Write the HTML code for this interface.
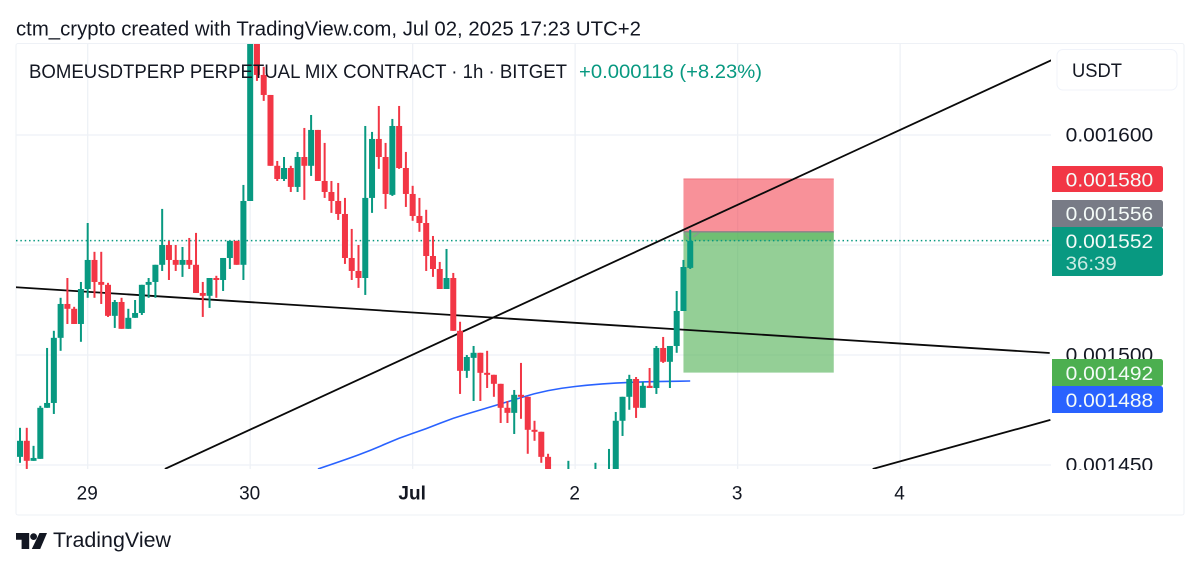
<!DOCTYPE html>
<html lang="en">
<head>
<meta charset="utf-8">
<title>BOMEUSDT chart</title>
<style>
html,body{margin:0;padding:0;background:#fff;width:1200px;height:570px;overflow:hidden}
svg{position:absolute;left:0;top:0;display:block}
text{font-family:"Liberation Sans",sans-serif}
</style>
</head>
<body>
<svg id="chart" xmlns="http://www.w3.org/2000/svg" width="1200" height="570" viewBox="0 0 1200 570">
  <defs>
    <clipPath id="pane-clip"><rect x="16" y="44" width="1035" height="425"></rect></clipPath>
    <clipPath id="axis-clip"><rect x="1052" y="44" width="131" height="426"></rect></clipPath>
  </defs>
  <rect x="0" y="0" width="1200" height="570" fill="#ffffff"></rect>
  <text x="16" y="35.5" font-size="20.5" fill="#131722" textLength="625" lengthAdjust="spacingAndGlyphs">ctm_crypto created with TradingView.com, Jul 02, 2025 17:23 UTC+2</text>
  <rect x="16" y="43.5" width="1168" height="471.5" rx="2" fill="#ffffff" stroke="#eef1f6" stroke-width="1"></rect>
  <g id="grid" clip-path="url(#pane-clip)"></g>
  <g id="position" clip-path="url(#pane-clip)"></g>
  <g id="price-line" clip-path="url(#pane-clip)"></g>
  <g id="trends" clip-path="url(#pane-clip)"></g>
  <g id="ma" clip-path="url(#pane-clip)"></g>
  <g id="candles" clip-path="url(#pane-clip)"></g>

  <text x="29" y="78" font-size="19" fill="#131722" textLength="538" lengthAdjust="spacingAndGlyphs">BOMEUSDTPERP PERPETUAL MIX CONTRACT · 1h · BITGET</text>
  <text x="579" y="78" font-size="19" fill="#089981" textLength="183" lengthAdjust="spacingAndGlyphs">+0.000118 (+8.23%)</text>

  <g id="price-axis" clip-path="url(#axis-clip)"></g>
  <rect x="1057" y="49.5" width="120" height="40.5" rx="6" fill="#ffffff" stroke="#f0f3fa" stroke-width="1"></rect>
  <text x="1072" y="77" font-size="19.5" fill="#131722" textLength="50" lengthAdjust="spacingAndGlyphs">USDT</text>
  <g id="price-tags"></g>
  <g id="time-axis"></g>

  <g>
    <path d="M16 533h13.2v16h-7.6v-9.2H16z" fill="#131722"></path>
    <circle cx="33.6" cy="536.6" r="3.4" fill="#131722"></circle>
    <path d="M39.5 533H47l-6.8 16h-8.4z" fill="#131722"></path>
    <text x="53" y="547" font-size="21.5" fill="#131722" textLength="118" lengthAdjust="spacingAndGlyphs">TradingView</text>
  </g>
</svg>
<script>
// Prices are expressed in millionths of a USDT (1552 = 0.001552).
const opens = [1453.7,1461.0,1451.9,1452.8,1476.0,1478.2,1507.8,1523.2,1521.0,1514.1,
1530.0,1543.2,1533.2,1531.9,1517.8,1524.1,1511.9,1516.9,1519.1,1531.9,
1533.2,1541.0,1550.0,1543.2,1541.0,1543.2,1541.0,1528.2,1526.9,1535.0,
1534.1,1544.1,1551.9,1541.0,1570.0,1647.8,1627.3,1618.2,1586.0,1580.0,
1585.0,1576.4,1590.0,1586.0,1602.3,1579.1,1574.1,1570.0,1564.1,1544.1,
1538.2,1535.0,1571.4,1598.2,1590.0,1572.8,1604.1,1585.0,1573.2,1563.2,
1560.0,1545.0,1539.1,1530.0,1535.0,1511.0,1492.8,1498.7,1501.0,1491.9,
1491.0,1486.9,1476.0,1473.7,1481.9,1481.0,1466.0,1465.1,1453.7,1444.0,
1436.0,1432.0,1438.0,1434.0,1430.0,1436.0,1441.0,1437.0,1446.0,1470.1,
1481.0,1489.1,1476.0,1486.0,1485.0,1503.2,1496.9,1504.1,1520.0,1539.6];
const highs = [1466.9,1466.9,1458.7,1476.9,1503.2,1511.0,1526.0,1535.0,1521.9,1533.2,
1560.0,1546.9,1546.9,1532.8,1525.0,1526.0,1521.0,1525.0,1531.9,1535.0,
1541.0,1566.4,1551.9,1550.0,1549.1,1553.2,1555.5,1533.2,1535.0,1536.0,
1544.1,1551.9,1551.9,1577.3,1650.0,1650.0,1631.0,1618.2,1588.2,1590.0,
1586.0,1592.3,1603.2,1609.1,1602.3,1596.4,1579.1,1578.2,1571.4,1557.3,
1550.0,1604.1,1601.4,1613.2,1596.4,1607.3,1613.2,1592.3,1576.9,1571.4,
1566.0,1554.1,1542.3,1548.2,1537.3,1515.1,1500.0,1504.1,1501.0,1501.9,
1491.0,1486.9,1479.1,1484.1,1496.4,1481.0,1470.1,1465.1,1455.1,1446.0,
1444.0,1451.9,1445.0,1442.0,1444.0,1451.0,1446.0,1457.3,1474.1,1481.0,
1491.0,1490.0,1487.8,1494.1,1504.1,1508.2,1504.1,1529.1,1543.2,1556.9];
const lows = [1451.0,1448.2,1451.9,1452.8,1476.0,1473.2,1501.9,1514.1,1514.1,1506.0,
1526.0,1526.0,1523.2,1517.3,1512.3,1511.9,1511.9,1516.9,1518.2,1526.0,
1526.0,1538.2,1534.1,1538.2,1535.5,1539.1,1528.2,1517.3,1521.4,1526.0,
1529.1,1539.1,1541.0,1534.1,1570.0,1624.6,1615.5,1586.0,1579.1,1579.1,
1574.1,1574.1,1570.5,1581.4,1579.1,1571.4,1564.6,1561.4,1541.4,1534.1,
1530.5,1527.3,1564.6,1584.6,1566.4,1572.3,1584.6,1567.3,1561.0,1556.0,
1538.2,1535.5,1530.0,1530.0,1511.0,1482.3,1489.6,1479.1,1479.1,1485.0,
1481.0,1469.1,1469.1,1464.1,1471.0,1455.1,1461.0,1451.0,1438.0,1432.0,
1428.0,1425.0,1430.0,1426.0,1424.0,1430.0,1434.0,1432.0,1440.0,1463.2,
1475.1,1471.4,1476.0,1485.0,1482.3,1496.4,1485.0,1501.0,1520.0,1539.1];
const closes = [1461.0,1451.9,1453.2,1476.0,1478.2,1507.8,1523.2,1521.0,1514.1,1530.0,
1543.2,1533.2,1531.9,1517.8,1524.1,1511.9,1516.9,1519.1,1531.9,1533.2,
1541.0,1550.0,1543.2,1541.0,1543.2,1541.0,1528.2,1526.9,1535.0,1534.1,
1544.1,1551.9,1541.0,1570.0,1647.8,1627.3,1618.2,1586.0,1580.0,1585.0,
1576.4,1590.0,1586.0,1602.3,1579.1,1574.1,1570.0,1564.1,1544.1,1538.2,
1535.0,1571.4,1598.2,1590.0,1573.2,1604.1,1585.0,1573.2,1563.2,1560.0,
1545.0,1539.1,1530.0,1535.0,1511.0,1492.8,1499.1,1501.0,1491.9,1491.0,
1486.9,1476.0,1473.7,1481.9,1481.0,1466.0,1465.1,1453.7,1444.0,1436.0,
1432.0,1438.0,1434.0,1430.0,1436.0,1441.0,1437.0,1446.0,1470.1,1481.0,
1489.1,1476.0,1486.0,1485.0,1503.2,1496.9,1504.1,1520.0,1540.0,1551.9];

const maBars = [44,48,52,56,60,64,68,72,76,80,84,88,92,96,99];
const maValues = [1448.2,1452.3,1456.9,1462.3,1466.4,1471.4,1475.0,1478.7,1482.6,1485.0,1486.4,1487.3,1487.8,1488.0,1488.2];

const trendStartBars = [-0.6,21.4,125.95];
const trendStartPrices = [1530.8,1448.2,1448.2];
const trendEndBars = [152.1,152.4,152.2];
const trendEndPrices = [1500.9,1634.1,1470.5];

const positionStartBar = 98;
const positionEndBar = 120.2;
const stopPrice = 1580;
const entryPrice = 1556;
const targetPrice = 1492;
const lastPrice = 1552;
const maLast = 1488;

const gridPrices = [1600,1550,1500,1450];
const axisPriceTicks = [1600,1500,1450];
const axisPriceLabels = ['0.001600','0.001500','0.001450'];
const dayBars = [10,34,58,82,106,130];
const dayLabels = ['29','30','Jul','2','3','4'];

const NS = 'http://www.w3.org/2000/svg';
function xScale(bar){ return 20 + bar * 6.77; }
function yScale(price){ return 135 + (1600 - price) * 2.2; }
function priceText(p){ return (p / 1e6).toFixed(6); }

function shape(parent, tag, attrs){
  const el = document.createElementNS(NS, tag);
  for (const k in attrs) el.setAttribute(k, attrs[k]);
  parent.appendChild(el);
  return el;
}

// grid
const gridG = document.getElementById('grid');
gridPrices.forEach(function(p){
  const el = shape(gridG, 'line', {x1:16, x2:1051, y1:yScale(p), y2:yScale(p), stroke:'#eef1f6', 'stroke-width':1.3});
  
  
});
dayBars.forEach(function(b){
  const el = shape(gridG, 'line', {x1:xScale(b), x2:xScale(b), y1:44, y2:469, stroke:'#eef1f6', 'stroke-width':1.3});
  
  
});

// position tool
const posG = document.getElementById('position');
const px0 = xScale(positionStartBar), px1 = xScale(positionEndBar);
const riskRect = shape(posG, 'rect', {x:px0, y:yScale(stopPrice), width:px1-px0, height:yScale(entryPrice)-yScale(stopPrice), fill:'rgba(242,54,69,0.55)'});


const stopEdge = shape(posG, 'line', {x1:px0, x2:px1, y1:yScale(stopPrice), y2:yScale(stopPrice), stroke:'#f2727d', 'stroke-width':1});


const rewardRect = shape(posG, 'rect', {x:px0, y:yScale(entryPrice), width:px1-px0, height:yScale(targetPrice)-yScale(entryPrice), fill:'rgba(76,175,80,0.6)'});


const pnlRect = shape(posG, 'rect', {x:px0, y:yScale(entryPrice), width:px1-px0, height:yScale(lastPrice)-yScale(entryPrice), fill:'rgba(76,175,80,0.5)'});


const entryLine = shape(posG, 'line', {x1:px0, x2:px1, y1:yScale(entryPrice), y2:yScale(entryPrice), stroke:'#8a8088', 'stroke-width':1.3});


const arrowLeft = shape(posG, 'line', {x1:px0+0.5, x2:px0+5.5, y1:yScale(entryPrice)+1, y2:yScale(entryPrice)+7, stroke:'#8a9a90', 'stroke-width':1.3});


const arrowRight = shape(posG, 'line', {x1:px0+15.5, x2:px0+10, y1:yScale(entryPrice)+1, y2:yScale(entryPrice)+5, stroke:'#8a9a90', 'stroke-width':1.3});



// last price dotted line
const plG = document.getElementById('price-line');
const dotted = shape(plG, 'line', {x1:16, x2:1051, y1:yScale(lastPrice), y2:yScale(lastPrice), stroke:'#089981', 'stroke-width':1.5, 'stroke-dasharray':'1.5 2.85'});



// trend lines
const trG = document.getElementById('trends');
trendStartBars.forEach(function(b, i){
  const el = shape(trG, 'line', {x1:xScale(b), y1:yScale(trendStartPrices[i]), x2:xScale(trendEndBars[i]), y2:yScale(trendEndPrices[i]), stroke:'#0a0a0a', 'stroke-width':1.8});
  
  
});

// moving average, smoothed through midpoints between readings
const maG = document.getElementById('ma');
let maPath = '';
maBars.forEach(function(b, i){
  const x = xScale(b), y = yScale(maValues[i]);
  if (i === 0) { maPath = 'M' + x.toFixed(1) + ' ' + y.toFixed(1); return; }
  if (i === maBars.length - 1) { maPath += ' L' + x.toFixed(1) + ' ' + y.toFixed(1); return; }
  const nx = (x + xScale(maBars[i + 1])) / 2, ny = (y + yScale(maValues[i + 1])) / 2;
  maPath += ' Q' + x.toFixed(1) + ' ' + y.toFixed(1) + ' ' + nx.toFixed(1) + ' ' + ny.toFixed(1);
});
const maLine = shape(maG, 'path', {d:maPath, fill:'none', stroke:'#2962ff', 'stroke-width':1.6, 'stroke-linejoin':'round'});



// candles
const cG = document.getElementById('candles');
opens.forEach(function(o, i){
  const c = closes[i];
  const col = c >= o ? '#089981' : '#f23645';
  const x = xScale(i);
  const wick = shape(cG, 'rect', {x:x-1, y:yScale(highs[i]), width:2, height:yScale(lows[i])-yScale(highs[i]), fill:col});
  
  
  const top = yScale(Math.max(o, c));
  const h = Math.max(2, Math.abs(yScale(o) - yScale(c)));
  const body = shape(cG, 'rect', {x:x-3, y:top, width:6, height:h, fill:col});
  
  
});

// price axis labels
const paG = document.getElementById('price-axis');
axisPriceTicks.forEach(function(p, i){
  const t = shape(paG, 'text', {x:1065.7, y:yScale(p)+6.7, 'font-size':19.5, fill:'#131722', textLength:87.5, lengthAdjust:'spacingAndGlyphs'});
  t.textContent = axisPriceLabels[i];
  
  
});

// price tags
const tagG = document.getElementById('price-tags');
function priceTag(name, price, y, h, fill, baseline){
  const r = shape(tagG, 'path', {d:'M1052 '+y+'h108.5a2.5 2.5 0 0 1 2.5 2.5v'+(h-5)+'a2.5 2.5 0 0 1 -2.5 2.5h-108.5z', fill:fill});
  
  
  const t = shape(tagG, 'text', {x:1065.7, y:baseline, 'font-size':19.5, fill:'#f4fbf8', textLength:87.5, lengthAdjust:'spacingAndGlyphs'});
  t.textContent = priceText(price);
  
  
}
priceTag('stop-price', stopPrice, 166, 26, '#f23645', 186.5);
priceTag('entry-price', entryPrice, 200, 28, '#787b86', 220.5);
priceTag('last-price', lastPrice, 227, 49, '#089981', 248);
priceTag('target-price', targetPrice, 359, 27, '#4caf50', 380);
priceTag('ma-price', maLast, 386, 27, '#2962ff', 407);
const timer = shape(tagG, 'text', {x:1065.7, y:270, 'font-size':19.5, fill:'#c9ebe3', textLength:51, lengthAdjust:'spacingAndGlyphs'});
timer.textContent = '36:39';



// time axis
const taG = document.getElementById('time-axis');
dayBars.forEach(function(b, i){
  const isMonth = dayLabels[i] === 'Jul';
  const t = shape(taG, 'text', {x:xScale(b)-0.5, y:499.5, 'font-size':19, 'text-anchor':'middle', fill:'#131722', 'font-weight':isMonth ? 700 : 400});
  t.textContent = dayLabels[i];
  
  
});
</script>
</body>
</html>
